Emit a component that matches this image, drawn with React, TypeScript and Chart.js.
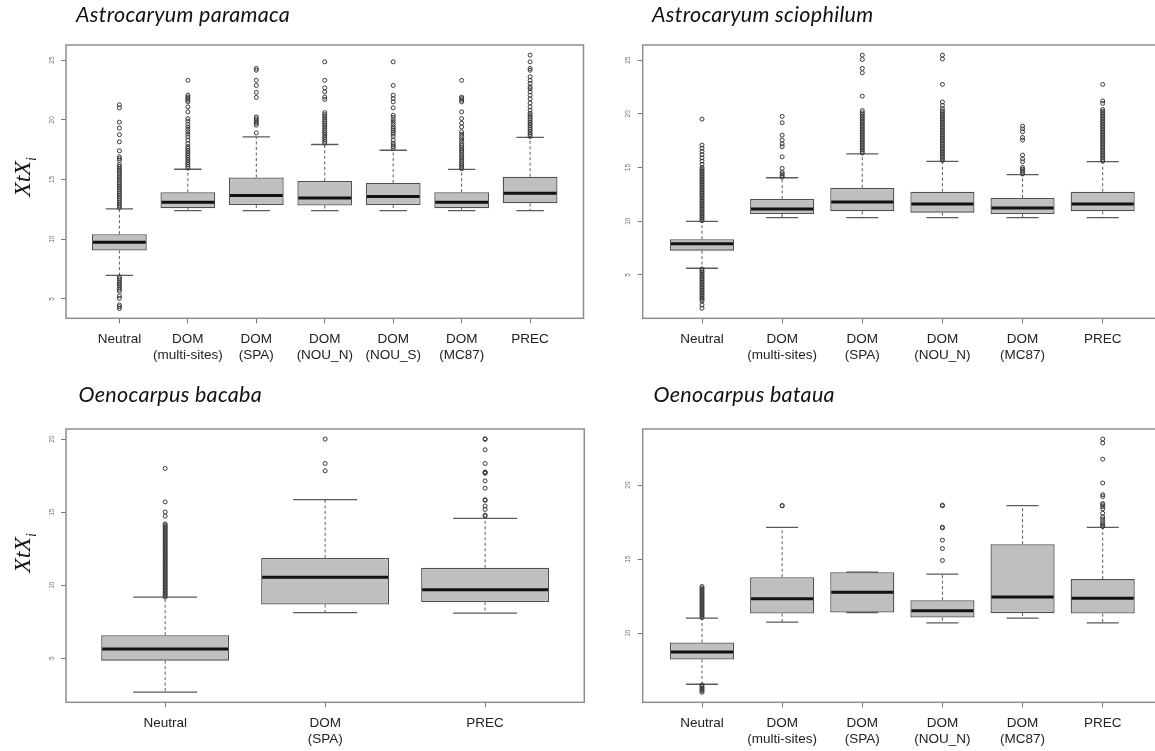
import { useEffect, useRef } from "react";
import { Chart, registerables } from "chart.js";

Chart.register(...registerables);

const LABEL_FONT = "'Liberation Sans', Arial, sans-serif";

type Label = string | string[];

// Astrocaryum paramaca
const paramacaLabels: Label[] = ["Neutral", ["DOM", "(multi-sites)"], ["DOM", "(SPA)"], ["DOM", "(NOU_N)"], ["DOM", "(NOU_S)"], ["DOM", "(MC87)"], "PREC"];
const paramacaLow = [6.98, 12.4, 12.4, 12.4, 12.4, 12.4, 12.4];
const paramacaQ1 = [9.05, 12.6, 12.87, 12.82, 12.87, 12.6, 13.01];
const paramacaMedian = [9.75, 13.1, 13.66, 13.46, 13.58, 13.1, 13.85];
const paramacaQ3 = [10.42, 13.94, 15.17, 14.88, 14.71, 13.94, 15.23];
const paramacaHigh = [12.54, 15.86, 18.57, 17.93, 17.45, 15.84, 18.52];
const paramacaOutliers = [
  [12.65, 12.8, 12.95, 13.1, 13.25, 13.4, 13.55, 13.7, 13.85, 14.0, 14.15, 14.3, 14.45, 14.6, 14.75, 14.9, 15.05, 15.2, 15.35, 15.5, 15.65, 15.8, 15.95, 16.1, 16.25, 16.6, 16.75, 16.9, 17.4, 18.15, 18.75, 19.3, 19.8, 21.0, 21.25,
    6.85, 6.7, 6.55, 6.4, 6.25, 6.1, 5.95, 5.8, 5.65, 5.25, 5.05, 4.5, 4.35, 4.2],
  [15.95, 16.1, 16.25, 16.4, 16.55, 16.7, 16.85, 17.0, 17.15, 17.3, 17.45, 17.6, 17.75, 18.0, 18.3, 18.57, 18.8, 19.0, 19.2, 19.4, 19.63, 19.9, 20.1, 20.66, 21.08, 21.5, 21.65, 21.78, 21.9, 22.06, 23.3],
  [18.9, 19.55, 19.7, 19.82, 19.95, 20.1, 20.24, 21.87, 22.29, 22.87, 23.3, 24.15, 24.3],
  [18.05, 18.2, 18.35, 18.5, 18.65, 18.8, 18.95, 19.1, 19.25, 19.4, 19.55, 19.7, 19.85, 20.0, 20.15, 20.3, 20.45, 20.6, 21.7, 21.9, 22.34, 22.67, 23.3, 24.85],
  [17.6, 17.75, 17.9, 18.05, 18.3, 18.6, 18.8, 18.95, 19.1, 19.25, 19.4, 19.6, 19.8, 20.0, 20.2, 20.38, 21.0, 21.5, 21.78, 22.06, 22.87, 24.85],
  [15.9, 16.05, 16.2, 16.35, 16.5, 16.65, 16.8, 16.95, 17.1, 17.25, 17.4, 17.55, 17.7, 17.85, 18.0, 18.2, 18.4, 18.6, 18.8, 19.0, 19.4, 19.7, 20.1, 20.66, 21.5, 21.65, 21.78, 21.9, 23.3],
  [18.6, 18.75, 18.9, 19.05, 19.2, 19.35, 19.5, 19.65, 19.8, 19.95, 20.1, 20.25, 20.4, 20.55, 20.8, 21.08, 21.4, 21.75, 22.05, 22.34, 22.6, 22.75, 23.04, 23.3, 23.6, 24.15, 24.3, 24.85, 25.41],
];
const paramacaTicks = [5, 10, 15, 20, 25];
const paramacaRange = [3.38, 26.26];

// Astrocaryum sciophilum
const sciophilumLabels: Label[] = ["Neutral", ["DOM", "(multi-sites)"], ["DOM", "(SPA)"], ["DOM", "(NOU_N)"], ["DOM", "(MC87)"], "PREC"];
const sciophilumLow = [5.62, 10.33, 10.33, 10.33, 10.33, 10.33];
const sciophilumQ1 = [7.26, 10.67, 10.93, 10.8, 10.67, 10.93];
const sciophilumMedian = [7.91, 11.14, 11.79, 11.6, 11.23, 11.6];
const sciophilumQ3 = [8.32, 12.07, 13.12, 12.75, 12.16, 12.75];
const sciophilumHigh = [9.99, 14.05, 16.28, 15.58, 14.33, 15.55];
const sciophilumOutliers = [
  [10.05, 10.2, 10.35, 10.5, 10.65, 10.8, 10.95, 11.1, 11.25, 11.4, 11.55, 11.7, 11.85, 12.0, 12.15, 12.3, 12.45, 12.6, 12.75, 12.9, 13.05, 13.2, 13.35, 13.5, 13.65, 13.8, 13.95, 14.1, 14.25, 14.4, 14.55, 14.7, 14.85, 15.0,
    15.3, 15.6, 15.9, 16.2, 16.5, 16.8, 17.09, 19.51,
    5.55, 5.4, 5.25, 5.1, 4.95, 4.8, 4.65, 4.5, 4.35, 4.2, 4.05, 3.9, 3.75, 3.6, 3.45, 3.3, 3.15, 3.0, 2.85, 2.7, 2.55, 2.2, 1.9],
  [14.1, 14.25, 14.4, 14.55, 14.92, 16.0, 16.94, 17.2, 17.56, 18.02, 19.17, 19.76],
  [16.35, 16.5, 16.65, 16.8, 16.95, 17.1, 17.25, 17.4, 17.55, 17.7, 17.85, 18.0, 18.15, 18.3, 18.45, 18.6, 18.75, 18.9, 19.05, 19.2, 19.35, 19.5, 19.65, 19.8, 19.95, 20.1, 20.3,
    21.65, 23.82, 24.23, 25.06, 25.47],
  [15.65, 15.8, 15.95, 16.1, 16.25, 16.4, 16.55, 16.7, 16.85, 17.0, 17.15, 17.3, 17.45, 17.6, 17.75, 17.9, 18.05, 18.2, 18.35, 18.5, 18.65, 18.8, 18.95, 19.1, 19.25, 19.4, 19.55, 19.7, 19.85, 20.0, 20.15, 20.3, 20.5,
    20.8, 21.1, 22.74, 25.1, 25.47],
  [14.4, 14.55, 14.7, 14.85, 15.0, 15.54, 15.8, 16.16, 17.56, 17.8, 18.33, 18.6, 18.86],
  [15.6, 15.75, 15.9, 16.05, 16.2, 16.35, 16.5, 16.65, 16.8, 16.95, 17.1, 17.25, 17.4, 17.55, 17.7, 17.85, 18.0, 18.15, 18.3, 18.45, 18.6, 18.75, 18.9, 19.05, 19.2, 19.35, 19.5, 19.65, 19.8, 19.95, 20.1, 20.25, 20.4,
    20.97, 21.2, 22.74],
];
const sciophilumTicks = [5, 10, 15, 20, 25];
const sciophilumRange = [0.96, 26.41];

// Oenocarpus bacaba
const bacabaLabels: Label[] = ["Neutral", ["DOM", "(SPA)"], "PREC"];
const bacabaLow = [2.68, 8.13, 8.09];
const bacabaQ1 = [4.84, 8.68, 8.85];
const bacabaMedian = [5.64, 10.54, 9.69];
const bacabaQ3 = [6.58, 11.87, 11.19];
const bacabaHigh = [9.19, 15.86, 14.57];
const bacabaOutliers = [
  [9.2, 9.3, 9.4, 9.5, 9.6, 9.7, 9.8, 9.9, 10.0, 10.1, 10.2, 10.3, 10.4, 10.5, 10.6, 10.7, 10.8, 10.9, 11.0, 11.1, 11.2, 11.3, 11.4, 11.5, 11.6, 11.7, 11.8, 11.9, 12.0, 12.1, 12.2, 12.3, 12.4, 12.5, 12.6, 12.7, 12.8, 12.9, 13.0, 13.1, 13.2, 13.3, 13.4, 13.5, 13.6, 13.7, 13.8, 13.9, 14.0, 14.1, 14.2,
    14.73, 15.01, 15.7, 17.99],
  [17.83, 18.33, 20.0],
  [14.73, 14.8, 15.19, 15.42, 15.81, 15.85, 16.64, 17.14, 17.66, 17.7, 17.75, 18.33, 19.27, 19.98, 20.02],
];
const bacabaTicks = [5, 10, 15, 20];
const bacabaRange = [1.99, 20.69];

// Oenocarpus bataua
const batauaLabels: Label[] = ["Neutral", ["DOM", "(multi-sites)"], ["DOM", "(SPA)"], ["DOM", "(NOU_N)"], ["DOM", "(MC87)"], "PREC"];
const batauaLow = [6.55, 10.74, 11.39, 10.7, 11.01, 10.7];
const batauaQ1 = [8.22, 11.32, 11.39, 11.05, 11.35, 11.32];
const batauaMedian = [8.72, 12.32, 12.77, 11.51, 12.45, 12.36];
const batauaQ3 = [9.37, 13.78, 14.12, 12.23, 16.01, 13.65];
const batauaHigh = [11.01, 17.14, 14.12, 13.99, 18.62, 17.14];
const batauaOutliers = [
  [11.05, 11.15, 11.25, 11.35, 11.45, 11.55, 11.65, 11.75, 11.85, 11.95, 12.05, 12.15, 12.25, 12.35, 12.45, 12.55, 12.65, 12.75, 12.85, 12.95, 13.05, 13.15,
    6.5, 6.4, 6.3, 6.2, 6.1, 6.01],
  [18.6, 18.62],
  [],
  [14.91, 15.72, 16.28, 17.11, 17.16, 18.6, 18.65],
  [],
  [17.2, 17.3, 17.4, 17.54, 17.7, 17.85, 18.1, 18.4, 18.55, 18.67, 18.75, 19.23, 19.35, 20.14, 21.75, 22.84, 23.11],
];
const batauaTicks = [10, 15, 20];
const batauaRange = [5.33, 23.79];

interface BoxPanelProps {
  labels: Label[];
  low: number[];
  q1: number[];
  median: number[];
  q3: number[];
  high: number[];
  outliers: number[][];
  yTicks: number[];
  yRange: number[];
  frame: { left: number; top: number; width: number; height: number };
  area: { left: number; top: number; right: number; bottom: number };
}

function BoxPanel(props: BoxPanelProps) {
  const canvasRef = useRef<HTMLCanvasElement>(null);

  useEffect(() => {
    if (!canvasRef.current) return;
    const { labels, low, q1, median, q3, high, outliers, yTicks, yRange, frame, area } = props;
    const n = labels.length;
    const ext = n * 0.04; // R extends 0.5..n+0.5 by 4%

    const boxExtras = {
      id: "boxExtras",
      beforeDatasetsDraw(chart: Chart) {
        const { ctx } = chart;
        const x = chart.scales.x;
        const y = chart.scales.y;
        ctx.save();
        ctx.strokeStyle = "#5a5a5a";
        low.forEach((lo, i) => {
          const cx = x.getPixelForValue(i + 1);
          const half = x.getPixelForValue(i + 1.2) - cx;
          ctx.setLineDash([3, 2.5]);
          ctx.lineWidth = 1;
          ctx.beginPath();
          ctx.moveTo(cx, y.getPixelForValue(q3[i]));
          ctx.lineTo(cx, y.getPixelForValue(high[i]));
          ctx.moveTo(cx, y.getPixelForValue(q1[i]));
          ctx.lineTo(cx, y.getPixelForValue(lo));
          ctx.stroke();
          ctx.setLineDash([]);
          ctx.lineWidth = 1.3;
          ctx.beginPath();
          ctx.moveTo(cx - half, y.getPixelForValue(high[i]));
          ctx.lineTo(cx + half, y.getPixelForValue(high[i]));
          ctx.moveTo(cx - half, y.getPixelForValue(lo));
          ctx.lineTo(cx + half, y.getPixelForValue(lo));
          ctx.stroke();
        });
        ctx.restore();
      },
      afterDatasetsDraw(chart: Chart) {
        const { ctx } = chart;
        const x = chart.scales.x;
        const y = chart.scales.y;
        ctx.save();
        ctx.strokeStyle = "#111";
        ctx.lineWidth = 3;
        median.forEach((m, i) => {
          const left = x.getPixelForValue(i + 0.6);
          const right = x.getPixelForValue(i + 1.4);
          const py = y.getPixelForValue(m);
          ctx.beginPath();
          ctx.moveTo(left + 1, py);
          ctx.lineTo(right - 1, py);
          ctx.stroke();
        });
        ctx.restore();
      },
      afterDraw(chart: Chart) {
        const { ctx, chartArea } = chart;
        const y = chart.scales.y;
        ctx.save();
        ctx.strokeStyle = "#8e8e8e";
        ctx.lineWidth = 1.5;
        ctx.strokeRect(chartArea.left, chartArea.top, chartArea.right - chartArea.left, chartArea.bottom - chartArea.top);
        // R style y tick labels, parallel to the axis
        ctx.fillStyle = "#707070";
        ctx.font = `6.5px ${LABEL_FONT}`;
        ctx.textAlign = "center";
        ctx.textBaseline = "middle";
        yTicks.forEach((v) => {
          ctx.save();
          ctx.translate(chartArea.left - 14, y.getPixelForValue(v));
          ctx.rotate(-Math.PI / 2);
          ctx.fillText(String(v), 0, 0);
          ctx.restore();
        });
        ctx.restore();
      },
    };

    const chart = new Chart(canvasRef.current, {
      type: "bar",
      data: {
        datasets: [
          {
            type: "scatter",
            data: outliers.flatMap((vals, i) => vals.map((v) => ({ x: i + 1, y: v }))),
            pointRadius: 2,
            pointStyle: "circle",
            backgroundColor: "rgba(0,0,0,0)",
            borderColor: "#383838",
            borderWidth: 1,
            order: 1,
          } as any,
          {
            type: "bar",
            data: labels.map((_, i) => ({ x: i + 1, y: [q1[i], q3[i]] })),
            backgroundColor: "#bfbfbf",
            borderColor: "#505050",
            borderWidth: 1.3,
            borderSkipped: false,
            barPercentage: 0.8,
            categoryPercentage: 1,
            order: 2,
          } as any,
        ],
      },
      options: {
        animation: false,
        responsive: true,
        maintainAspectRatio: false,
        events: [],
        layout: {
          padding: { left: 0, top: area.top, right: frame.width - area.right, bottom: 0 },
        },
        plugins: {
          legend: { display: false },
          tooltip: { enabled: false },
        },
        scales: {
          x: {
            type: "linear",
            min: 0.5 - ext,
            max: n + 0.5 + ext,
            bounds: "data",
            offset: false,
            border: { display: false },
            grid: {
              offset: false,
              drawOnChartArea: false,
              drawTicks: true,
              tickLength: 5,
              color: "#777",
              lineWidth: 1,
            },
            afterBuildTicks: (scale: any) => {
              scale.ticks = labels.map((_, i) => ({ value: i + 1 }));
            },
            afterFit: (scale: any) => {
              scale.height = frame.height - area.bottom;
            },
            ticks: {
              autoSkip: false,
              maxRotation: 0,
              minRotation: 0,
              padding: 8,
              color: "#222",
              font: { family: LABEL_FONT, size: 13.5, lineHeight: 1.19 },
              callback: (value: any) => labels[Math.round(Number(value)) - 1] as any,
            },
          },
          y: {
            type: "linear",
            min: yRange[0],
            max: yRange[1],
            bounds: "data",
            beginAtZero: false,
            border: { display: false },
            grid: {
              drawOnChartArea: false,
              drawTicks: true,
              tickLength: 5,
              color: "#777",
              lineWidth: 1,
            },
            afterBuildTicks: (scale: any) => {
              scale.ticks = yTicks.map((v) => ({ value: v }));
            },
            afterFit: (scale: any) => {
              scale.width = area.left;
            },
            ticks: { display: false },
          },
        },
      },
      plugins: [boxExtras],
    });

    return () => {
      chart.destroy();
    };
  }, [props]);

  return (
    <div style={{ position: "absolute", left: props.frame.left, top: props.frame.top, width: props.frame.width, height: props.frame.height }}>
      <canvas ref={canvasRef}></canvas>
    </div>
  );
}

function PanelTitle({ text, left, top }: { text: string; left: number; top: number }) {
  return (
    <div style={{ position: "absolute", left, top, fontFamily: "Lato, 'Open Sans', sans-serif", fontStyle: "italic", fontSize: 21.5, lineHeight: "21.5px", letterSpacing: 0.3, color: "#111", whiteSpace: "nowrap" }}>
      {text}
    </div>
  );
}

function AxisTitle({ cx, cy }: { cx: number; cy: number }) {
  return (
    <div style={{ position: "absolute", left: cx, top: cy, transform: "translate(-50%, -50%) rotate(-90deg)", fontFamily: "'Liberation Serif', 'Times New Roman', serif", fontStyle: "italic", fontSize: 24, lineHeight: "26px", color: "#111", whiteSpace: "nowrap" }}>
      XtX<sub style={{ fontSize: 14, lineHeight: 0 }}>i</sub>
    </div>
  );
}

const topLeft = {
  frame: { left: 0, top: 0, width: 610, height: 375 },
  area: { left: 66, top: 45, right: 583.5, bottom: 318.3 },
};
const topRight = {
  frame: { left: 610, top: 0, width: 560, height: 375 },
  area: { left: 32.7, top: 45, right: 552, bottom: 318.3 },
};
const bottomLeft = {
  frame: { left: 0, top: 375, width: 610, height: 376 },
  area: { left: 66, top: 54, right: 584.3, bottom: 327.3 },
};
const bottomRight = {
  frame: { left: 610, top: 375, width: 560, height: 376 },
  area: { left: 32.7, top: 54, right: 552, bottom: 327.3 },
};

export default function App() {
  return (
    <div style={{ position: "absolute", left: 0, top: 0, width: 1155, height: 751, overflow: "hidden", background: "#fff" }}>
      <BoxPanel labels={paramacaLabels} low={paramacaLow} q1={paramacaQ1} median={paramacaMedian} q3={paramacaQ3} high={paramacaHigh}
        outliers={paramacaOutliers} yTicks={paramacaTicks} yRange={paramacaRange} {...topLeft} />
      <BoxPanel labels={sciophilumLabels} low={sciophilumLow} q1={sciophilumQ1} median={sciophilumMedian} q3={sciophilumQ3} high={sciophilumHigh}
        outliers={sciophilumOutliers} yTicks={sciophilumTicks} yRange={sciophilumRange} {...topRight} />
      <BoxPanel labels={bacabaLabels} low={bacabaLow} q1={bacabaQ1} median={bacabaMedian} q3={bacabaQ3} high={bacabaHigh}
        outliers={bacabaOutliers} yTicks={bacabaTicks} yRange={bacabaRange} {...bottomLeft} />
      <BoxPanel labels={batauaLabels} low={batauaLow} q1={batauaQ1} median={batauaMedian} q3={batauaQ3} high={batauaHigh}
        outliers={batauaOutliers} yTicks={batauaTicks} yRange={batauaRange} {...bottomRight} />
      <PanelTitle text="Astrocaryum paramaca" left={76} top={4} />
      <PanelTitle text="Astrocaryum sciophilum" left={652} top={4} />
      <PanelTitle text="Oenocarpus bacaba" left={78.5} top={384} />
      <PanelTitle text="Oenocarpus bataua" left={653.5} top={384} />
      <AxisTitle cx={22} cy={177} />
      <AxisTitle cx={22} cy={553} />
    </div>
  );
}
